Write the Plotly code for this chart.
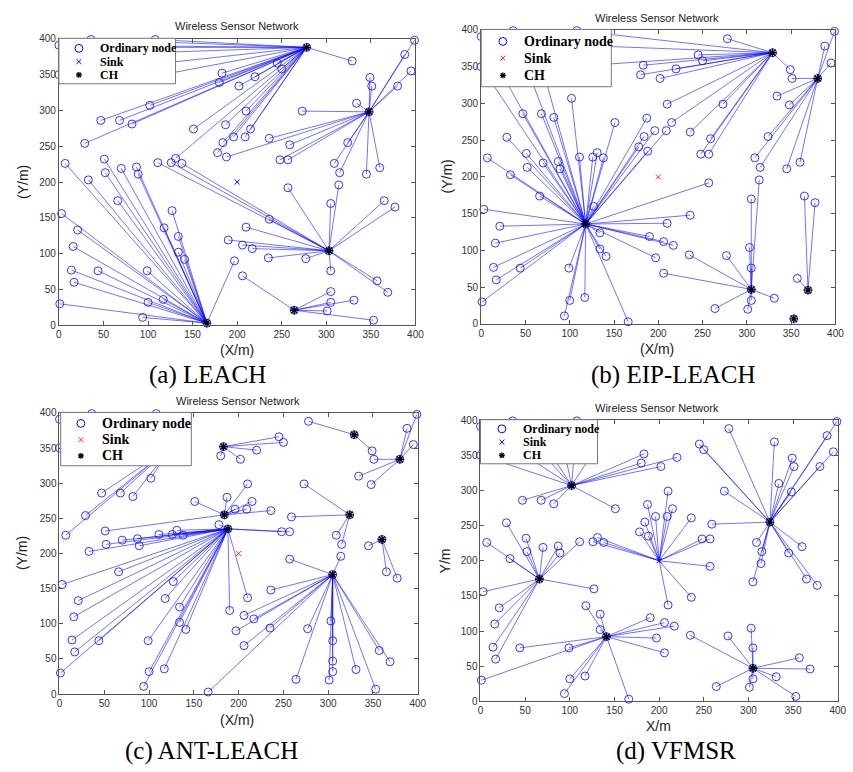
import plotly.graph_objects as go

W, H = 853, 772

# Sensor node positions (m), shared by all four protocols
node_x = [1, 94, 100, 117, 166, 17, 14, 44, 99, 16,
          21, 3, 33, 66, 118, 127, 134, 134, 141, 197,
          206, 190, 206, 217, 210, 236, 235, 277, 257, 305,
          314, 305, 303, 365, 377, 357, 369, 305, 305, 331,
          301, 353, 264, 399, 278, 329, 388, 395, 380, 349,
          351, 348, 334, 273, 183, 220, 202, 180, 245, 250,
          102, 47, 68, 82, 29, 151, 187, 210, 215, 196,
          209, 184, 178, 188, 236, 259, 248, 257, 309, 324,
          315, 345, 360, 7, 51, 52, 70, 87, 89, 111,
          126, 131, 138, 0, 0, 36, 108, 125, 60, 90]
node_y = [30, 11, 32, 36, 3, 60, 77, 76, 76, 110,
          133, 156, 203, 174, 136, 160, 124, 102, 92, 90,
          69, 119, 112, 107, 137, 148, 94, 93, 192, 170,
          196, 76, 104, 174, 165, 62, 46, 47, 32, 35,
          20, 7, 21, 398, 388, 369, 378, 355, 334, 346,
          334, 298, 310, 299, 352, 347, 334, 339, 366, 358,
          307, 286, 286, 281, 254, 274, 280, 299, 274, 263,
          263, 255, 241, 235, 261, 252, 231, 231, 226, 255,
          213, 211, 220, 226, 232, 213, 219, 221, 211, 227,
          227, 233, 226, 350, 391, 399, 399, 352, 388, 380]

sink = (200, 200)

# Cluster heads elected by each protocol
ch_leach = [(278, 388), (348, 298), (303, 104), (166, 3), (264, 21)]
ch_eip = [(329, 369), (380, 334), (118, 136), (305, 47), (369, 46), (353, 7)]
ch_ant = [(183, 352), (329, 369), (380, 334), (184, 255), (188, 235),
          (324, 255), (360, 220), (305, 170), (125, 352)]
ch_vfmsr = [(102, 307), (324, 255), (66, 174), (141, 92), (305, 47)]

captions = ["(a) LEACH", "(b) EIP-LEACH", "(c) ANT-LEACH", "(d) VFMSR"]
legend_labels = ["Ordinary node", "Sink", "CH"]
tick_vals = [0, 50, 100, 150, 200, 250, 300, 350, 400]

BLUE = "rgb(0,0,255)"
NODE = "rgba(20,20,255,0.85)"
LINE = "rgba(0,0,255,0.55)"
RED = "rgb(255,40,40)"


def px(x):
    return x / W


def py(y):
    return 1 - y / H


panels = [
    dict(heads=ch_leach, sink_head=False, sink_color=BLUE,
         box=(56.7, 33.3, 418.3, 324.3), title=(237, 20),
         ylab=("(Y/m)", 20, 179), xlab=("(X/m)", 237, 349), cap=(207, 375),
         leg=dict(box=(56.7, 32.8, 175, 79), rows=(43, 56.5, 70), sym=77, txt=96, fs=12)),
    dict(heads=ch_eip, sink_head=False, sink_color=RED,
         box=(485, 24.3, 844.3, 323), title=(663, 12),
         ylab=("(Y/m)", 450, 173.5), xlab=("(X/m)", 663, 348), cap=(680, 375),
         leg=dict(box=(485, 23.8, 617, 82), rows=(36, 53, 70.5), sym=507, txt=526, fs=14)),
    dict(heads=ch_ant, sink_head=False, sink_color=RED,
         box=(57.3, 413.3, 420.7, 699), title=(238, 401),
         ylab=("(Y/m)", 20, 556), xlab=("(X/m)", 237, 725), cap=(211, 757),
         leg=dict(box=(58.5, 412.8, 191, 467), rows=(424, 440.5, 457), sym=79, txt=98, fs=14)),
    dict(heads=ch_vfmsr, sink_head=True, sink_color=BLUE,
         box=(484.3, 420.7, 846.7, 706.3), title=(663, 408),
         ylab=("Y/m", 448, 563.5), xlab=("X/m", 665, 731), cap=(683, 757),
         leg=dict(box=(484.3, 420.2, 603, 465), rows=(429.5, 443, 456.5), sym=506, txt=525, fs=12)),
]

fig = go.Figure()
annotations = []
shapes = []

for i, p in enumerate(panels):
    n = "" if i == 0 else str(i + 1)
    xa, ya = "x" + n, "y" + n
    heads = list(p["heads"])
    targets = heads + ([sink] if p["sink_head"] else [])

    # member -> cluster head links (each node joins its closest head)
    lx, ly = [], []
    for nx, ny in zip(node_x, node_y):
        if (nx, ny) in heads:
            continue
        hx, hy = min(targets, key=lambda h: (h[0] - nx) ** 2 + (h[1] - ny) ** 2)
        lx += [nx, hx, None]
        ly += [ny, hy, None]

    fig.add_trace(go.Scatter(x=lx, y=ly, mode="lines", xaxis=xa, yaxis=ya,
                             line=dict(color=LINE, width=1), hoverinfo="skip"))
    fig.add_trace(go.Scatter(x=node_x, y=node_y, mode="markers", xaxis=xa, yaxis=ya,
                             cliponaxis=False, name=legend_labels[0],
                             marker=dict(symbol="circle-open", size=8, color=NODE,
                                         line=dict(width=1))))
    fig.add_trace(go.Scatter(x=[sink[0]], y=[sink[1]], mode="markers", xaxis=xa, yaxis=ya,
                             name=legend_labels[1],
                             marker=dict(symbol="x-thin-open", size=5, color=p["sink_color"],
                                         line=dict(width=1))))
    fig.add_trace(go.Scatter(x=[h[0] for h in heads], y=[h[1] for h in heads],
                             mode="markers", xaxis=xa, yaxis=ya, cliponaxis=False,
                             name=legend_labels[2],
                             marker=dict(symbol="asterisk-open", size=7, color="black",
                                         line=dict(width=1.4))))

    x0, y0, x1, y1 = p["box"]
    axis_common = dict(range=[0, 400], tickvals=tick_vals, ticks="inside", ticklen=4,
                       tickcolor="#555", showline=True, linecolor="#555", linewidth=1,
                       mirror="allticks", showgrid=False, zeroline=False,
                       tickfont=dict(family="Liberation Sans", size=10, color="#333"))
    fig.layout["xaxis" + n] = dict(domain=[px(x0), px(x1)], anchor=ya, **axis_common)
    fig.layout["yaxis" + n] = dict(domain=[py(y1), py(y0)], anchor=xa, **axis_common)

    tx, ty = p["title"]
    annotations.append(dict(text="Wireless Sensor Network", x=px(tx), y=py(ty),
                            font=dict(family="Liberation Sans", size=11, color="#222")))
    t, lxp, lyp = p["ylab"]
    annotations.append(dict(text=t, x=px(lxp), y=py(lyp), textangle=-90,
                            font=dict(family="Liberation Sans", size=14, color="#222")))
    t, lxp, lyp = p["xlab"]
    annotations.append(dict(text=t, x=px(lxp), y=py(lyp),
                            font=dict(family="Liberation Sans", size=14, color="#222")))
    cx, cy = p["cap"]
    annotations.append(dict(text=captions[i], x=px(cx), y=py(cy),
                            font=dict(family="Liberation Serif", size=25, color="black")))

    # legend box with its three entries
    lg = p["leg"]
    bx0, by0, bx1, by1 = lg["box"]
    shapes.append(dict(type="rect", xref="paper", yref="paper", layer="above",
                       x0=px(bx0), x1=px(bx1), y0=py(by1), y1=py(by0),
                       fillcolor="white", line=dict(color="#777", width=1)))
    r0, r1, r2 = lg["rows"]
    sx = lg["sym"]
    shapes.append(dict(type="circle", xref="paper", yref="paper", layer="above",
                       x0=px(sx - 4), x1=px(sx + 4), y0=py(r0 + 4), y1=py(r0 - 4),
                       line=dict(color=BLUE, width=1)))
    for d in (1, -1):
        shapes.append(dict(type="line", xref="paper", yref="paper", layer="above",
                           x0=px(sx - 2.5), x1=px(sx + 2.5), y0=py(r1 - 2.5 * d), y1=py(r1 + 2.5 * d),
                           line=dict(color=p["sink_color"], width=1)))
    for ddx, ddy in ((3, 0), (0, 3), (2.2, 2.2), (2.2, -2.2)):
        shapes.append(dict(type="line", xref="paper", yref="paper", layer="above",
                           x0=px(sx - ddx), x1=px(sx + ddx), y0=py(r2 - ddy), y1=py(r2 + ddy),
                           line=dict(color="black", width=1.3)))
    for label, ry in zip(legend_labels, lg["rows"]):
        annotations.append(dict(text="<b>" + label + "</b>", x=px(lg["txt"]), y=py(ry),
                                xanchor="left",
                                font=dict(family="Liberation Serif", size=lg["fs"], color="black")))

for a in annotations:
    a.setdefault("xanchor", "center")
    a.update(xref="paper", yref="paper", yanchor="middle", showarrow=False)

fig.update_layout(width=W, height=H, margin=dict(l=0, r=0, t=0, b=0),
                  paper_bgcolor="white", plot_bgcolor="white", showlegend=False,
                  annotations=annotations, shapes=shapes)

fig.write_html("out.html")
